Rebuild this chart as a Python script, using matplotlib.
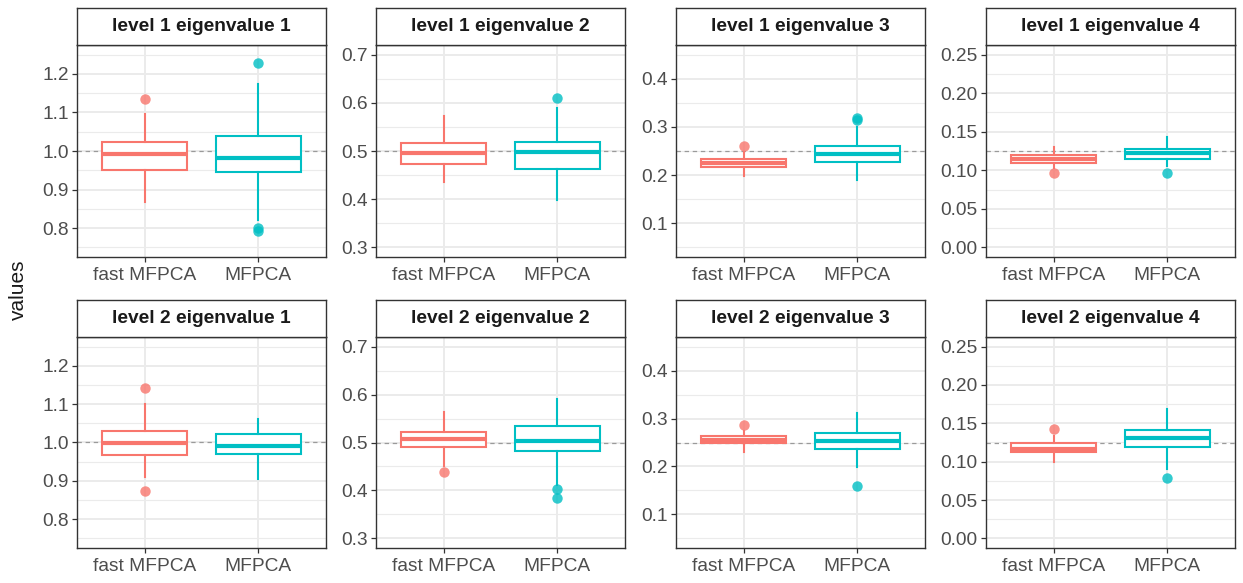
import matplotlib
matplotlib.use("Agg")
import matplotlib.pyplot as plt
import numpy as np

plt.rcParams['font.family'] = ['Liberation Sans', 'DejaVu Sans']

# --- data ---
methods = ["fast MFPCA", "MFPCA"]
titles = ["level 1 eigenvalue 1", "level 1 eigenvalue 2", "level 1 eigenvalue 3", "level 1 eigenvalue 4",
          "level 2 eigenvalue 1", "level 2 eigenvalue 2", "level 2 eigenvalue 3", "level 2 eigenvalue 4"]
true_vals = [1.0, 0.5, 0.25, 0.125, 1.0, 0.5, 0.25, 0.125]

# each entry: [fast MFPCA, MFPCA]
whislo = [[0.867, 0.822], [0.436, 0.399], [0.199, 0.190], [0.103, 0.106],
          [0.911, 0.904], [0.450, 0.412], [0.230, 0.198], [0.099, 0.090]]
q1 = [[0.952, 0.945], [0.474, 0.463], [0.217, 0.228], [0.110, 0.115],
      [0.968, 0.971], [0.491, 0.482], [0.248, 0.236], [0.113, 0.119]]
med = [[0.993, 0.981], [0.496, 0.498], [0.226, 0.243], [0.115, 0.122],
       [0.998, 0.992], [0.508, 0.504], [0.255, 0.253], [0.117, 0.131]]
q3 = [[1.024, 1.040], [0.517, 0.519], [0.234, 0.260], [0.120, 0.127],
      [1.029, 1.022], [0.521, 0.534], [0.263, 0.269], [0.124, 0.141]]
whishi = [[1.097, 1.173], [0.572, 0.590], [0.247, 0.299], [0.130, 0.143],
          [1.101, 1.062], [0.564, 0.590], [0.274, 0.312], [0.133, 0.169]]
fliers = [[[1.136], [1.229, 0.800, 0.792]],
          [[], [0.611]],
          [[0.260], [0.318, 0.315]],
          [[0.097], [0.097]],
          [[1.141, 0.873], []],
          [[0.438], [0.404, 0.385]],
          [[0.287], [0.160]],
          [[0.143], [0.079]]]

# y axis breaks per eigenvalue
breaks = [[0.8, 0.9, 1.0, 1.1, 1.2],
          [0.3, 0.4, 0.5, 0.6, 0.7],
          [0.1, 0.2, 0.3, 0.4],
          [0.0, 0.05, 0.10, 0.15, 0.20, 0.25]]
lims = [(0.75, 1.25), (0.3, 0.7), (0.05, 0.45), (0.0, 0.25)]
fmts = ["{:.1f}", "{:.1f}", "{:.1f}", "{:.2f}"]

colors = ["#F8766D", "#00BFC4"]

W, H = 1243, 583
fig = plt.figure(figsize=(W / 100, H / 100), dpi=100)

col_left = [77, 376, 676, 986]
col_w = 249
rows = [(8, 45, 257), (300, 337, 548)]  # strip top, panel top, panel bottom

def px(l, t, w, h):
    return [l / W, 1 - (t + h) / H, w / W, h / H]

for i in range(8):
    r, c = divmod(i, 4)
    st, pt, pb = rows[r]
    ax = fig.add_axes(px(col_left[c], pt, col_w, pb - pt))
    sax = fig.add_axes(px(col_left[c], st, col_w, pt - st))
    sax.set_xticks([]); sax.set_yticks([])
    for s in sax.spines.values():
        s.set_color("#333333"); s.set_linewidth(1.0)
    sax.text(0.5, 0.5, titles[i], ha="center", va="center", fontsize=13.8,
             fontweight="bold", color="#1A1A1A", transform=sax.transAxes)

    lo, hi = lims[c]
    pad = (hi - lo) * 0.05
    ax.set_ylim(lo - pad, hi + pad)
    ax.set_xlim(0.4, 2.6)

    # grid
    step = breaks[c][1] - breaks[c][0]
    minor = np.arange(breaks[c][0] - step / 2, hi + pad, step)
    for m in minor:
        if lo - pad <= m <= hi + pad:
            ax.axhline(m, color="#EBEBEB", lw=0.8, zorder=0)
    for b in breaks[c]:
        ax.axhline(b, color="#EBEBEB", lw=1.4, zorder=0)
    for xx in [1, 2]:
        ax.axvline(xx, color="#EBEBEB", lw=1.4, zorder=0)

    ax.axhline(true_vals[i], color="#9A9A9A", lw=0.9, ls=(0, (3.5, 3)), zorder=1)

    for j in range(2):
        stats = [dict(med=med[i][j], q1=q1[i][j], q3=q3[i][j], whislo=whislo[i][j],
                      whishi=whishi[i][j], fliers=fliers[i][j])]
        ax.bxp(stats, positions=[j + 1], widths=0.75, showcaps=False, patch_artist=True,
               boxprops=dict(facecolor="white", edgecolor=colors[j], linewidth=1.5),
               whiskerprops=dict(color=colors[j], linewidth=1.5),
               medianprops=dict(color=colors[j], linewidth=3.0, solid_capstyle="butt"),
               flierprops=dict(marker="o", markerfacecolor=colors[j], markeredgecolor="none",
                               markersize=7.5, alpha=0.8),
               manage_ticks=False, zorder=2)

    ax.set_yticks(breaks[c])
    ax.set_yticklabels([fmts[c].format(b) for b in breaks[c]])
    ax.set_xticks([1, 2])
    ax.set_xticklabels(methods)
    ax.tick_params(length=3.5, width=0.9, color="#333333", labelcolor="#4D4D4D",
                   labelsize=13.8, pad=2.5)
    ax.tick_params(axis="x", pad=3.5)
    for s in ax.spines.values():
        s.set_color("#333333"); s.set_linewidth(1.0)

fig.text(18 / W, 1 - 290 / H, "values", rotation=90, ha="center", va="center",
         fontsize=15, color="#1A1A1A")

fig.savefig("out.png", dpi=100)
